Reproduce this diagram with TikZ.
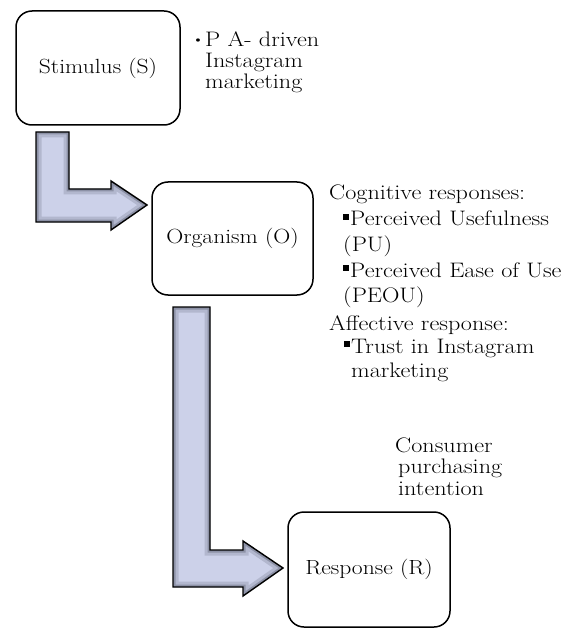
\documentclass[tikz,border=0pt]{standalone}
\usepackage{fontspec}
\setmainfont{Latin Modern Roman}[FakeStretch=1.15]
\usepackage{amssymb}
\usetikzlibrary{calc}

\definecolor{arrowfill}{RGB}{204,209,233}
\definecolor{arrowmid}{RGB}{178,183,206}
\definecolor{arrowedge}{RGB}{140,145,166}

\newcommand{\sqmark}{\raisebox{6.5pt}{\rule{5.5pt}{5.5pt}}\hspace{1.5pt}}
\newcommand{\bentarrow}[1]{%
  \fill[arrowfill] #1;
  \begin{scope}
    \clip #1;
    \draw[arrowmid, line width=11] #1;
    \draw[arrowedge, line width=5] #1;
  \end{scope}
  \draw[line width=1.4, line join=miter] #1;
}

\tikzset{
  stagebox/.style={draw, line width=1.5, rounded corners=16, minimum width=162, minimum height=114, inner sep=0.75pt, font=\fontsize{20.5}{24}\selectfont},
  notetext/.style={anchor=base west, inner sep=0pt, align=left, font=\fontsize{21}{25}\selectfont}
}

\begin{document}
\begin{tikzpicture}[x=1pt,y=1pt,yscale=-1,xscale=1]
\useasboundingbox (0,0) rectangle (565,628);

% Bent Arrow S -> O
\bentarrow{(36,132) -- (69,132) -- (69,189) -- (111,189) -- (111,181) -- (147,205) -- (111,230) -- (111,222) -- (36,222) -- cycle}
% Bent Arrow O -> R
\bentarrow{(173,307) -- (210,307) -- (210,550) -- (243,550) -- (243,541) -- (283,568) -- (243,596) -- (243,587) -- (173,587) -- cycle}

% Stage Boxes
\draw (98,68) node [stagebox, minimum width=164] (stim) {Stimulus (S)};
\draw (232.5,238.5) node [stagebox, minimum width=161, minimum height=113] (org) {Organism (O)};
\draw (369,569.5) node [stagebox, minimum height=115] (resp) {Response (R)};

% Text Node (base = last line)
\draw (205,88.4) node [notetext, font=\fontsize{21}{20.7}\selectfont] (stimnote) {\llap{\raisebox{2pt}{\fontsize{15}{15}\selectfont\textbullet}\hspace{1pt}}P A- driven\\Instagram\\marketing};
% Text Node
\draw (329,200) node [notetext] (coghead) {Cognitive responses:};
% Text Node
\draw (343,251) node [notetext] (pu) {\sqmark Perceived Usefulness\\(PU)};
% Text Node
\draw (343,302) node [notetext] (peou) {\sqmark Perceived Ease of Use\\(PEOU)};
% Text Node
\draw (329,330) node [notetext] (affhead) {Affective response:};
% Text Node
\draw (351,377) node [notetext, font=\fontsize{21}{24}\selectfont] (trust) {\llap{\sqmark}Trust in Instagram\\marketing};
% Text Node
\draw (395,495) node [notetext, font=\fontsize{21}{21.5}\selectfont] (respnote) {Consumer\\\hspace{3pt}purchasing\\\hspace{3pt}intention};

\end{tikzpicture}
\end{document}
